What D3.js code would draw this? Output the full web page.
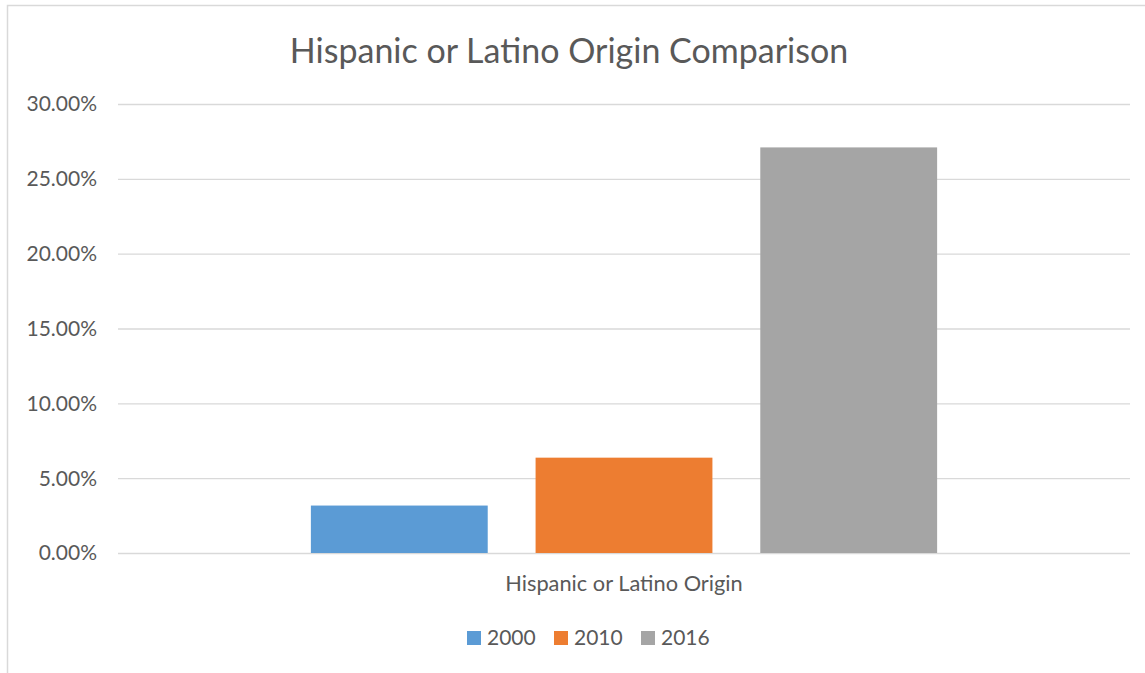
<!DOCTYPE html>
<html>
<meta charset="utf-8">
<title>Hispanic or Latino Origin Comparison</title>
<style>
html, body {
  margin: 0;
  padding: 0;
  background: #fff;
}
svg text {
  font-family: "Lato", "Open Sans", sans-serif;
  fill: #595959;
}
.grid line {
  stroke: #d9d9d9;
  stroke-width: 1.3;
}
.grid path {
  display: none;
}
</style>
<body>
<svg></svg>
<script src="https://cdn.jsdelivr.net/npm/d3@7"></script>
<script>

var categories = ["Hispanic or Latino Origin"];
var years = ["2000", "2010", "2016"];
var values = [0.0317, 0.0637, 0.2710];
var colors = ["#5b9bd5", "#ed7d31", "#a5a5a5"];
var yTicks = [0, 0.05, 0.10, 0.15, 0.20, 0.25, 0.30];

var fullWidth = 1145, fullHeight = 673;

var svg = d3.select("svg")
    .attr("width", fullWidth)
    .attr("height", fullHeight);

// chart frame (only left and top edges are visible in the shot)
svg.append("path")
    .attr("d", "M7.5," + fullHeight + "V5.5H" + fullWidth)
    .attr("fill", "none")
    .attr("stroke", "#d9d9d9")
    .attr("stroke-width", 1.5);

var margin = {top: 104, right: 15, bottom: 120, left: 118},
    width = fullWidth - margin.left - margin.right,
    height = fullHeight - margin.top - margin.bottom;

var g = svg.append("g")
    .attr("transform", "translate(" + margin.left + "," + margin.top + ")");

var x0 = d3.scaleBand().domain(categories).range([0, width])
    .paddingInner(0).paddingOuter(0.308);
var x1 = d3.scaleBand().domain(years).range([0, x0.bandwidth()])
    .paddingInner(0.213).paddingOuter(0);
var y = d3.scaleLinear().domain([0, 0.30]).range([height, 0]);

// gridlines
g.append("g")
    .attr("class", "grid")
    .call(d3.axisLeft(y).tickValues(yTicks).tickSize(-width).tickFormat(""));

// y labels
g.selectAll("text.ylab")
    .data(yTicks)
  .enter().append("text")
    .attr("class", "ylab")
    .attr("x", -21)
    .attr("y", function(d) { return y(d); })
    .attr("dy", "0.35em")
    .attr("text-anchor", "end")
    .style("font-size", "21px")
    .text(function(d) { return d3.format(".2%")(d); });

// bars
var bars = g.selectAll("g.cat")
    .data(categories)
  .enter().append("g")
    .attr("class", "cat")
    .attr("transform", function(d) { return "translate(" + x0(d) + ",0)"; });

bars.selectAll("rect")
    .data(years.map(function(yr, i) { return {year: yr, value: values[i], color: colors[i]}; }))
  .enter().append("rect")
    .attr("x", function(d) { return x1(d.year); })
    .attr("y", function(d) { return y(d.value); })
    .attr("width", x1.bandwidth())
    .attr("height", function(d) { return height - y(d.value); })
    .attr("fill", function(d) { return d.color; });

// category label
g.selectAll("text.xlab")
    .data(categories)
  .enter().append("text")
    .attr("class", "xlab")
    .attr("x", function(d) { return x0(d) + x0.bandwidth() / 2; })
    .attr("y", height + 38)
    .attr("text-anchor", "middle")
    .style("font-size", "21.8px")
    .text(function(d) { return d; });

// title
svg.append("text")
    .attr("x", margin.left + width / 2 - 55)
    .attr("y", 63)
    .attr("text-anchor", "middle")
    .style("font-size", "34px")
    .text("Hispanic or Latino Origin Comparison");

// legend
var legendX = [467, 554, 641];
var legend = svg.selectAll("g.legend")
    .data(years)
  .enter().append("g")
    .attr("class", "legend")
    .attr("transform", function(d, i) { return "translate(" + legendX[i] + ",631)"; });

legend.append("rect")
    .attr("width", 14)
    .attr("height", 14)
    .attr("fill", function(d, i) { return colors[i]; });

legend.append("text")
    .attr("x", 20)
    .attr("y", 14)
    .style("font-size", "21px")
    .text(function(d) { return d; });

</script>
</body>
</html>
